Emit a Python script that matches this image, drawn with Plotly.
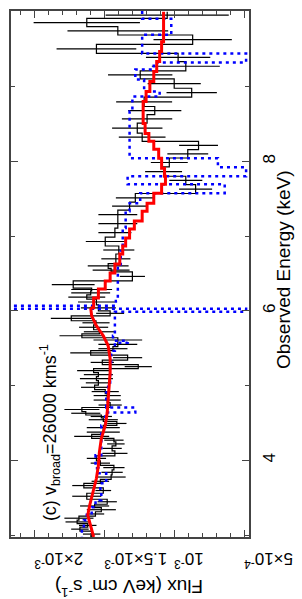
import plotly.graph_objects as go

FLUX_UNIT = 1e-3  # flux arrays below are in units of 1e-3 keV cm^-2 s^-1

# ---- observed spectrum: energy bin edges (keV, descending), flux and 1-sigma error ----
data_edges_keV = [
    10.0, 9.911, 9.8, 9.689, 9.564, 9.444, 9.333, 9.209, 9.103, 8.977, 8.857,
    8.733, 8.623, 8.511, 8.377, 8.267, 8.156, 8.044, 7.924, 7.8, 7.689, 7.569,
    7.453, 7.347, 7.227, 7.107, 6.987, 6.867, 6.76, 6.631, 6.569, 6.52, 6.4,
    6.303, 6.267, 6.213, 6.156, 6.08, 6.0, 5.933, 5.867,
    5.813, 5.747, 5.693, 5.64, 5.58, 5.52, 5.467, 5.407, 5.34, 5.28, 5.227,
    5.173, 5.12, 5.067, 5.007, 4.947, 4.893, 4.84, 4.773, 4.707, 4.653, 4.607,
    4.567, 4.52, 4.467, 4.407, 4.347, 4.293, 4.247, 4.193, 4.127, 4.06, 3.993,
    3.933, 3.873, 3.807, 3.747, 3.693, 3.633, 3.56, 3.48, 3.413, 3.367, 3.313,
    3.253, 3.2, 3.153, 3.107, 3.053, 2.975,
]
data_flux = [
    1.05, 1.625, 1.403, 0.868, 1.556, 0.972, 0.917, 1.243, 1.0, 0.875,
    1.215, 1.139, 1.194, 1.264, 1.229, 0.826, 0.903, 1.035, 1.076, 0.917,
    0.847, 1.278, 1.319, 1.403, 1.403, 1.424, 1.493, 1.396, 1.417, 1.472,
    1.451, 1.299, 1.722, 1.590, 1.597, 1.625, 1.556, 1.542, 1.458, 1.736,
    1.559, 1.576, 1.535, 1.660, 1.403, 1.403, 1.438, 1.597, 1.333, 1.514,
    1.257, 1.576, 1.542, 1.556, 1.542, 1.569, 1.493, 1.479, 1.479, 1.458,
    1.660, 1.632, 1.521, 1.507, 1.410, 1.507, 1.507, 1.590, 1.431, 1.417,
    1.444, 1.424, 1.556, 1.528, 1.431, 1.444, 1.451, 1.528, 1.646, 1.507,
    1.625, 1.479, 1.569, 1.521, 1.563, 1.681, 1.694, 1.618, 1.674, 1.590,
]
data_err = [
    0.44, 0.38, 0.36, 0.28, 0.285, 0.23, 0.243, 0.23, 0.19, 0.18,
    0.20, 0.19, 0.18, 0.18, 0.167, 0.139, 0.146, 0.132, 0.132, 0.118,
    0.118, 0.139, 0.125, 0.139, 0.139, 0.118, 0.139, 0.111, 0.104, 0.146,
    0.132, 0.09, 0.153, 0.146, 0.139, 0.132, 0.132, 0.125, 0.10, 0.146,
    0.097, 0.104, 0.111, 0.16, 0.174, 0.139, 0.104, 0.146, 0.104, 0.083,
    0.097, 0.118, 0.104, 0.118, 0.09, 0.097, 0.097, 0.097, 0.097, 0.083,
    0.125, 0.104, 0.076, 0.104, 0.069, 0.118, 0.118, 0.125, 0.069, 0.0625,
    0.069, 0.09, 0.069, 0.069, 0.076, 0.076, 0.104, 0.0625, 0.083, 0.056,
    0.104, 0.069, 0.104, 0.104, 0.0625, 0.104, 0.083, 0.0625, 0.0625, 0.0625,
]

# ---- broad-line model (red): stepped high-energy part, smooth low-energy part ----
model_step_keV = [10.0, 9.733, 9.6, 9.467, 9.333, 9.2, 9.067, 8.933, 8.8, 8.667,
                  8.507, 8.373, 8.267, 8.16, 8.04, 7.907, 7.8, 7.693, 7.573, 7.44,
                  7.333, 7.2, 7.093, 6.973, 6.867, 6.76, 6.627, 6.507, 6.4, 6.293,
                  6.173, 6.04]
model_step_flux = [1.076, 1.076, 1.090, 1.104, 1.125, 1.146, 1.174, 1.201, 1.222, 1.222,
                   1.208, 1.181, 1.146, 1.111, 1.090, 1.069, 1.0625, 1.090, 1.146, 1.194,
                   1.229, 1.285, 1.319, 1.347, 1.368, 1.389, 1.424, 1.458, 1.493, 1.542,
                   1.576, 1.597]
model_smooth_keV = [6.04, 5.933, 5.8, 5.667, 5.533, 5.36, 5.173, 5.0, 4.827, 4.64,
                    4.467, 4.293, 4.107, 3.933, 3.76, 3.573, 3.4, 3.267, 3.133, 2.975]
model_smooth_flux = [1.597, 1.590, 1.556, 1.507, 1.472, 1.458, 1.458, 1.465, 1.472, 1.479,
                     1.493, 1.521, 1.535, 1.542, 1.556, 1.583, 1.604, 1.618, 1.597, 1.576]

# ---- narrow-line model (blue dotted): bin edges (keV, descending) and flux ----
narrow_edges_keV = [10.01, 9.907, 9.693, 9.44, 9.32, 9.227, 9.093, 8.933, 8.867, 8.667,
                    8.04, 7.92, 7.8, 7.693, 7.573, 7.44, 7.333, 7.107, 6.8, 6.573,
                    6.133, 6.067, 6.027, 5.987, 5.667, 5.6, 5.573, 5.467, 5.267, 5.04,
                    4.907, 4.707, 4.64, 4.467, 4.067, 3.893, 3.827, 3.693, 3.6, 3.467,
                    3.373, 3.293, 3.2, 3.093, 2.975]
narrow_flux = [1.229, 1.021, 1.229, 0.486, 1.146, 1.278, 1.215, 1.104, 1.299, 1.319,
               0.6875, 0.486, 1.333, 0.639, 1.243, 1.319, 1.347, 1.368, 1.382, 1.403,
               1.417, 3.0, 0.486, 1.424, 1.4375, 1.333, 1.424, 1.451, 1.458, 1.472,
               1.486, 1.278, 1.493, 1.521, 1.5625, 1.542, 1.486, 1.528, 1.521, 1.5625,
               1.59, 1.625, 1.646, 1.66]

flux_tick_vals = [5e-4, 1e-3, 1.5e-3, 2e-3]
flux_tick_text = ["5×10<sup>-4</sup>", "10<sup>-3</sup>", "1.5×10<sup>-3</sup>", "2×10<sup>-3</sup>"]
energy_tick_vals = [4, 6, 8, 10]
energy_tick_text = ["4", "6", "8", "10"]


def stairs(edges, vals):
    xs, ys = [], []
    for i, v in enumerate(vals):
        xs += [v * FLUX_UNIT, v * FLUX_UNIT]
        ys += [edges[i], edges[i + 1]]
    return xs, ys


FONT = "Liberation Sans, Arial, Helvetica, sans-serif"
AX = "#444444"

fig = go.Figure()

# data histogram
dx, dy = stairs(data_edges_keV, data_flux)
fig.add_trace(go.Scatter(x=dx, y=dy, mode="lines",
                         line=dict(color="black", width=1.2), hoverinfo="skip"))
# data error bars at bin centres
centres = [(data_edges_keV[i] + data_edges_keV[i + 1]) / 2 for i in range(len(data_flux))]
fig.add_trace(go.Scatter(
    x=[v * FLUX_UNIT for v in data_flux], y=centres, mode="markers",
    marker=dict(size=1, color="rgba(0,0,0,0)"),
    error_x=dict(type="data", array=[e * FLUX_UNIT for e in data_err],
                 width=0, thickness=1.2, color="black")))

# narrow model
nx, ny = stairs(narrow_edges_keV, narrow_flux)
fig.add_trace(go.Scatter(x=nx, y=ny, mode="lines",
                         line=dict(color="#0000ff", width=2.5, dash="3px,4px")))

# broad model
fig.add_trace(go.Scatter(x=[v * FLUX_UNIT for v in model_step_flux], y=model_step_keV,
                         mode="lines", line=dict(color="#ff0000", width=3, shape="vh")))
fig.add_trace(go.Scatter(x=[v * FLUX_UNIT for v in model_smooth_flux], y=model_smooth_keV,
                         mode="lines", line=dict(color="#ff0000", width=3)))

fig.update_layout(
    width=302, height=599,
    margin=dict(l=10, r=47, t=9, b=62),
    paper_bgcolor="white", plot_bgcolor="white",
    showlegend=False,
    font=dict(family=FONT, color="black", size=17),
    xaxis=dict(
        range=[2.1667e-3, 0.4653e-3],
        tickmode="array", tickvals=flux_tick_vals, ticktext=flux_tick_text,
        tickangle=180, ticks="inside", ticklen=7, tickwidth=1.2, tickcolor=AX,
        showline=True, linecolor=AX, linewidth=1.5, mirror="ticks",
        showgrid=False, zeroline=False, tickfont=dict(size=17),
        ticklabelstandoff=11,
        minor=dict(ticks="inside", ticklen=4, tickmode="linear", tick0=0, dtick=1e-4,
                   tickcolor=AX, tickwidth=1.2, showgrid=False),
    ),
    yaxis=dict(
        side="right",
        range=[2.975, 10.01],
        tickmode="array", tickvals=energy_tick_vals, ticktext=energy_tick_text,
        tickangle=-90, ticks="inside", ticklen=7, tickwidth=1.2, tickcolor=AX,
        showline=True, linecolor=AX, linewidth=1.5, mirror="ticks",
        showgrid=False, zeroline=False, tickfont=dict(size=17),
        ticklabelstandoff=4,
        minor=dict(ticks="inside", ticklen=4, tickmode="linear", tick0=0, dtick=1,
                   tickcolor=AX, tickwidth=1.2, showgrid=False),
    ),
    annotations=[
        dict(text="Observed Energy (keV)", textangle=-90, xref="paper", yref="paper",
             x=1.143, y=0.5076, xanchor="center", yanchor="middle", showarrow=False,
             font=dict(size=19, family=FONT)),
        dict(text="Flux (keV cm<sup>-</sup> s<sup>-1</sup>)", textangle=180,
             xref="paper", yref="paper", x=0.498, y=-0.097,
             xanchor="center", yanchor="middle", showarrow=False,
             font=dict(size=19, family=FONT)),
        dict(text="(c) v<sub>broad</sub>=26000 kms<sup>-1</sup>", textangle=-90,
             xref="paper", yref="paper", x=0.163, y=0.199,
             xanchor="center", yanchor="middle", showarrow=False,
             font=dict(size=18, family=FONT)),
    ],
)

fig.write_html("out.html", config={"displayModeBar": False},
               post_script="document.body.style.margin='0';document.body.style.overflow='hidden';")
